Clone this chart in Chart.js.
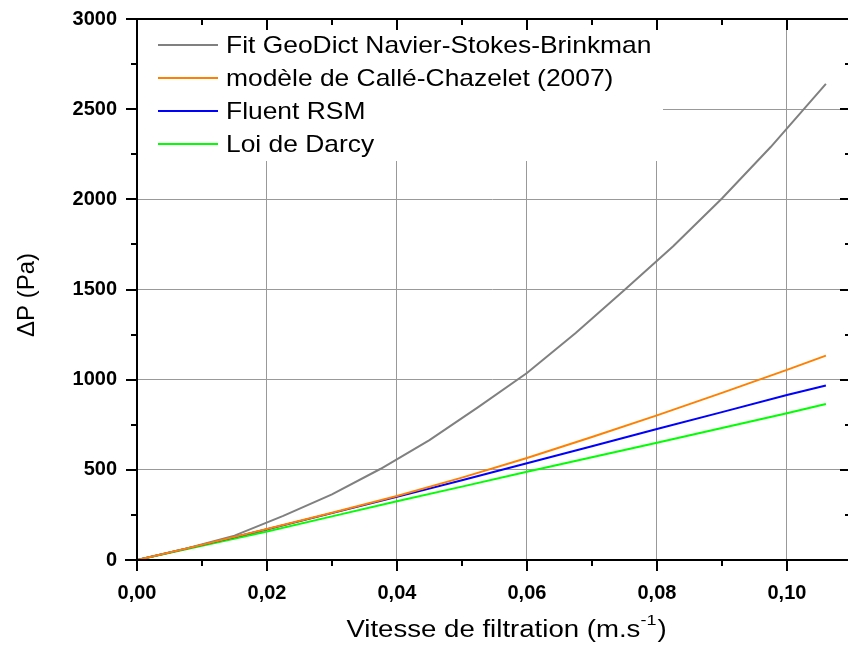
<!DOCTYPE html>
<html>
<head>
<meta charset="utf-8">
<script src="https://cdn.jsdelivr.net/npm/chart.js@4/dist/chart.umd.min.js"></script>
<style>
  html, body { margin: 0; padding: 0; background: #fff; }
  #wrap { width: 848px; height: 650px; }
</style>
</head>
<body>
<div id="wrap"><canvas id="dpChart" width="848" height="650"></canvas></div>
<script>
// données
var seriesNames = ['Fit GeoDict Navier-Stokes-Brinkman', 'modèle de Callé-Chazelet (2007)', 'Fluent RSM', 'Loi de Darcy'];
var seriesColors = ['#808080', '#ff8000', '#0000ff', '#00ff00'];

var vFit = [0, 0.0075, 0.015, 0.0225, 0.03, 0.0375, 0.045, 0.0525, 0.06, 0.0675, 0.075, 0.0825, 0.09, 0.0975, 0.106];
var pFit = [0, 62, 135, 245, 364, 506, 665, 848, 1037, 1259, 1497, 1740, 2005, 2290, 2640];

var vModel = [0, 0.01, 0.02, 0.03, 0.04, 0.05, 0.06, 0.07, 0.08, 0.09, 0.10, 0.106];
var pCalle = [0, 84, 172, 262, 355, 457, 566, 682, 802, 927, 1054, 1133];
var pFluent = [0, 84, 170, 260, 350, 442, 536, 631, 726, 820, 915, 968];
var pDarcy = [0, 79, 158, 242, 326, 407, 489, 570, 650, 732, 814, 865];

var xTicks = [0, 0.01, 0.02, 0.03, 0.04, 0.05, 0.06, 0.07, 0.08, 0.09, 0.10];
var yTicks = [0, 250, 500, 750, 1000, 1250, 1500, 1750, 2000, 2250, 2500, 2750, 3000];

var FONT = "'Liberation Sans', Arial, sans-serif";

function pts(xs, ys) {
  var out = [];
  for (var i = 0; i < xs.length; i++) out.push({x: xs[i], y: ys[i]});
  return out;
}
function isMajorX(v) { return Math.round(v * 100) % 2 === 0; }
function isMajorY(v) { return v % 500 === 0; }

// texte étiré horizontalement (la figure d'origine est un peu large)
function wideText(ctx, txt, x, y, sx) {
  ctx.save();
  ctx.translate(x, y);
  ctx.scale(sx, 1);
  ctx.fillText(txt, 0, 0);
  ctx.restore();
  return ctx.measureText(txt).width * sx;
}

// légende dans un cadre blanc au-dessus de la grille
var legendBox = {
  id: 'legendBox',
  beforeDatasetsDraw: function(chart) {
    var ctx = chart.ctx, a = chart.chartArea;
    ctx.save();
    ctx.fillStyle = '#fff';
    ctx.fillRect(a.left + 1, a.top + 1, 662 - a.left, 160 - a.top);
    ctx.font = '24px ' + FONT;
    ctx.textBaseline = 'middle';
    ctx.textAlign = 'left';
    var rows = [45, 78, 111, 144];
    for (var i = 0; i < seriesNames.length; i++) {
      ctx.strokeStyle = seriesColors[i];
      ctx.lineWidth = 2;
      ctx.beginPath();
      ctx.moveTo(158, rows[i]);
      ctx.lineTo(218, rows[i]);
      ctx.stroke();
      ctx.fillStyle = '#000';
      wideText(ctx, seriesNames[i], 226, rows[i] + 1, 1.1);
    }
    ctx.restore();
  }
};

// cadre, graduations et titres des axes
var frame = {
  id: 'frame',
  afterDraw: function(chart) {
    var ctx = chart.ctx, a = chart.chartArea;
    var sx = chart.scales.x, sy = chart.scales.y;
    ctx.save();
    ctx.strokeStyle = '#000';
    ctx.lineWidth = 2;
    ctx.beginPath();
    ctx.moveTo(a.left, a.top); ctx.lineTo(a.right, a.top);
    ctx.moveTo(a.left, a.top); ctx.lineTo(a.left, a.bottom);
    ctx.moveTo(a.left - 12, a.bottom); ctx.lineTo(a.right, a.bottom);
    ctx.stroke();

    ctx.beginPath();
    xTicks.forEach(function(v) {
      var px = Math.round(sx.getPixelForValue(v));
      var len = isMajorX(v) ? 11 : 6;
      ctx.moveTo(px, a.bottom); ctx.lineTo(px, a.bottom + len);
      ctx.moveTo(px, a.top); ctx.lineTo(px, a.top + len);
    });
    yTicks.forEach(function(v) {
      var py = Math.round(sy.getPixelForValue(v));
      var len = isMajorY(v) ? 11 : 6;
      ctx.moveTo(a.left, py); ctx.lineTo(a.left - len, py);
      ctx.moveTo(a.right, py); ctx.lineTo(a.right - (len - 3), py);
    });
    ctx.stroke();

    // titre Y
    ctx.fillStyle = '#000';
    ctx.font = '24px ' + FONT;
    ctx.translate(27, 295);
    ctx.rotate(-Math.PI / 2);
    ctx.textAlign = 'center';
    ctx.textBaseline = 'middle';
    ctx.fillText('\u0394P (Pa)', 0, 0);
    ctx.setTransform(1, 0, 0, 1, 0, 0);

    // titre X avec exposant
    var base = 'Vitesse de filtration (m.s', sup = '-1', end = ')';
    var k = 1.2;
    ctx.textAlign = 'left';
    ctx.textBaseline = 'alphabetic';
    ctx.font = '23px ' + FONT;
    var w1 = ctx.measureText(base).width * k, w3 = ctx.measureText(end).width * k;
    ctx.font = '15px ' + FONT;
    var w2 = ctx.measureText(sup).width * k;
    var x0 = 506 - (w1 + w2 + w3) / 2;
    var yb = 637;
    ctx.font = '23px ' + FONT;
    wideText(ctx, base, x0, yb, k);
    ctx.font = '15px ' + FONT;
    wideText(ctx, sup, x0 + w1, yb - 12, k);
    ctx.font = '23px ' + FONT;
    wideText(ctx, end, x0 + w1 + w2 + 1, yb, k);
    ctx.restore();
  }
};

var ctx = document.getElementById('dpChart').getContext('2d');
var dpChart = new Chart(ctx, {
  type: 'line',
  data: {
    datasets: [
      { label: seriesNames[0], data: pts(vFit, pFit), borderColor: seriesColors[0], order: 1 },
      { label: seriesNames[1], data: pts(vModel, pCalle), borderColor: seriesColors[1], order: 0 },
      { label: seriesNames[2], data: pts(vModel, pFluent), borderColor: seriesColors[2], order: 2 },
      { label: seriesNames[3], data: pts(vModel, pDarcy), borderColor: seriesColors[3], order: 3 }
    ]
  },
  options: {
    responsive: false,
    animation: false,
    elements: {
      line: { borderWidth: 2, tension: 0, fill: false },
      point: { radius: 0 }
    },
    layout: { padding: { top: 19, right: 0, left: 0, bottom: 0 } },
    plugins: { legend: { display: false }, tooltip: { enabled: false } },
    scales: {
      x: {
        type: 'linear',
        min: 0,
        max: 0.1094,
        afterBuildTicks: function(s) { s.ticks = xTicks.map(function(v) { return {value: v}; }); },
        afterFit: function(s) { s.height = 90; s.paddingLeft = 0; s.paddingRight = 0; },
        border: { display: false },
        grid: {
          drawTicks: false,
          lineWidth: 1,
          color: function(c) { return (c.tick && isMajorX(c.tick.value)) ? '#999999' : 'rgba(0,0,0,0)'; }
        },
        ticks: {
          padding: 21,
          maxRotation: 0,
          autoSkip: false,
          color: '#000',
          font: { family: FONT, size: 20, weight: 'bold' },
          callback: function(v) { return isMajorX(v) ? v.toFixed(2).replace('.', ',') : ''; }
        }
      },
      y: {
        min: 0,
        max: 3000,
        afterBuildTicks: function(s) { s.ticks = yTicks.map(function(v) { return {value: v}; }); },
        afterFit: function(s) { s.width = 137; s.paddingTop = 0; s.paddingBottom = 0; },
        border: { display: false },
        grid: {
          drawTicks: false,
          lineWidth: 1,
          color: function(c) { return (c.tick && isMajorY(c.tick.value)) ? '#999999' : 'rgba(0,0,0,0)'; }
        },
        ticks: {
          padding: 20,
          autoSkip: false,
          color: '#000',
          font: { family: FONT, size: 20, weight: 'bold' },
          callback: function(v) { return isMajorY(v) ? String(v) : ''; }
        }
      }
    }
  },
  plugins: [legendBox, frame]
});
</script>
</body>
</html>
